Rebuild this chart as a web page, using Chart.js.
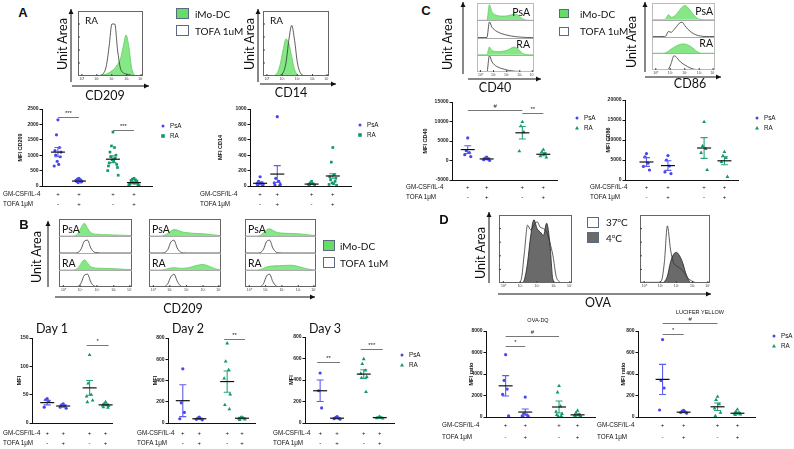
<!DOCTYPE html>
<html>
<head>
<meta charset="utf-8">
<script src="https://cdn.jsdelivr.net/npm/chart.js@4.4.0/dist/chart.umd.min.js"></script>
<style>
body { margin: 0; width: 794px; height: 449px; background: #fff; position: relative; overflow: hidden; }
canvas { position: absolute; }
.t { position: absolute; white-space: nowrap; line-height: 1; color: #111; }
</style>
</head>
<body>
<svg id="deco" width="794" height="449" style="position:absolute;left:0;top:0"></svg>
<script>
"use strict";

// ---- dot plot rows ----
const gmRow = ['+', '+', '+', '+'];
const tofaRow = ['-', '+', '-', '+'];
const rowNames = ['GM-CSF/IL-4', 'TOFA 1\u03bcM'];

// ---- A: CD209 / CD14 MFI ----
const cd209Ticks = [0, 500, 1000, 1500, 2000, 2500];
const cd209PsA = [[2150, 1660, 1250, 1150, 1100, 1000, 950, 800, 700, 650], [250, 220, 200, 180, 160, 150, 130, 110]];
const cd209RA = [[1750, 1300, 1250, 1100, 1000, 950, 900, 850, 800, 750, 700, 650, 600, 500, 350],
                 [250, 220, 200, 180, 160, 140, 120, 100, 90, 80, 60, 50, 30, 10, 0]];
const cd209Mean = [1100, 160, 870, 110];
const cd209Sem = [150, 20, 110, 15];

const cd14Ticks = [0, 200, 400, 600, 800, 1000];
const cd14PsA = [[120, 60, 40, 30, 20, 10, 0], [900, 100, 60, 40, 20, 10, 0]];
const cd14RA = [[60, 40, 30, 20, 10, 0], [500, 310, 150, 120, 100, 80, 60, 40, 30, 20, 10]];
const cd14Mean = [35, 155, 25, 130];
const cd14Sem = [15, 110, 5, 30];

// ---- B: CD209 by day ----
const day1Ticks = [0, 50, 100, 150];
const day1PsA = [[43, 41, 38, 28], [34, 32, 30, 28, 26]];
const day1RA = [[120, 70, 50, 47, 40, 37], [37, 34, 32, 31, 30, 28, 27]];
const day1Mean = [36, 30, 62, 32];
const day1Sem = [4, 2, 13, 1.5];

const day2Ticks = [0, 200, 400, 600, 800];
const day2PsA = [[510, 190, 100, 40], [55, 45, 40, 35, 30]];
const day2RA = [[750, 580, 500, 420, 270, 170, 130], [55, 50, 45, 40, 35, 30]];
const day2Mean = [210, 40, 390, 45];
const day2Sem = [150, 5, 100, 4];

const day3Ticks = [0, 200, 400, 600, 800];
const day3PsA = [[465, 300, 140], [60, 50, 45, 40, 35]];
const day3RA = [[595, 550, 490, 460, 430, 420, 290], [58, 52, 48, 45, 42]];
const day3Mean = [300, 45, 455, 50];
const day3Sem = [100, 5, 40, 4];

// ---- C: CD40 / CD86 MFI ----
const cd40Ticks = [-5000, 0, 5000, 10000, 15000];
const cd40PsA = [[5800, 2500, 2000, 1500, 1000], [900, 600, 400, 200, 0]];
const cd40RA = [[9900, 8800, 7300, 2400], [2800, 2200, 1800, 1100, 800]];
const cd40Mean = [2800, 400, 7100, 1600];
const cd40Sem = [1000, 200, 1600, 400];

const cd86Ticks = [0, 5000, 10000, 15000, 20000];
const cd86PsA = [[6600, 5800, 4200, 3400, 2500], [6100, 5000, 3500, 2000, 1600]];
const cd86RA = [[14500, 8500, 7800, 6800, 2500], [7000, 6000, 5500, 4500, 800]];
const cd86Mean = [4500, 3600, 8000, 4800];
const cd86Sem = [1100, 1200, 2600, 1000];

// ---- D: uptake ----
const ovaTicks = [0, 2000, 4000, 6000, 8000];
const ovaPsA = [[5800, 3400, 2600, 2100, 100], [1850, 300, 200, 100, 50, 0]];
const ovaRA = [[2900, 2300, 1000, 500, 300, 200, 100, 50], [600, 400, 250, 150, 100, 50, 0]];
const ovaMean = [2900, 460, 930, 200];
const ovaSem = [950, 280, 560, 80];

const lyTicks = [0, 200, 400, 600, 800];
const lyPsA = [[720, 340, 270, 65], [62, 55, 48, 42, 36]];
const lyRA = [[190, 160, 120, 80, 40, 10], [70, 50, 40, 32, 25, 20]];
const lyMean = [350, 45, 95, 35];
const lySem = [140, 5, 35, 8];

// ---- histograms (fraction of box / row height) ----
const histTickLabels = ['10\u2070', '10\u00b9', '10\u00b2', '10\u00b3', '10\u2074'];
const cd209Mo   = [0,0,0,0,0,0,0,0,.01,.02,.03,.05,.08,.12,.18,.26,.45,.63,.45,.12,.02,0,0,0];
const cd209Tofa = [0,0,0,0,0,0,0,0,.01,.04,.15,.45,.8,.8,.4,.12,.05,.03,.02,.01,0,0,0,0];
const cd14Mo    = [0,0,0,0,.01,.05,.18,.4,.57,.5,.3,.1,.02,0,0,0,0,0,0,0,0,0,0,0];
const cd14Tofa  = [0,0,0,0,0,0,.01,.05,.2,.55,.78,.55,.2,.05,.01,0,0,0,0,0,0,0,0,0];

const d1PsAMo   = [0,0,0,0,0,.02,.15,.5,.75,.45,.2,.12,.1,.09,.08,.08,.07,.06,.06,.05,.05,.04,.03,.02];
const d1PsATofa = [0,0,0,0,0,0,.03,.25,.7,.75,.3,.06,.02,0,0,0,0,0,0,0,0,0,0,0];
const d1RAMo    = [0,0,0,0,0,.02,.12,.4,.6,.4,.2,.13,.11,.1,.1,.09,.09,.08,.07,.06,.05,.04,.03,.02];
const d1RATofa  = [0,0,0,0,0,0,.03,.25,.7,.75,.3,.06,.02,0,0,0,0,0,0,0,0,0,0,0];
const d2PsAMo   = [0,0,0,0,0,.05,.15,.3,.38,.35,.28,.22,.2,.18,.16,.15,.14,.13,.12,.1,.08,.06,.04,.02];
const d2PsATofa = [0,0,0,0,0,.03,.2,.65,.75,.3,.06,.01,0,0,0,0,0,0,0,0,0,0,0,0];
const d2RAMo    = [0,0,0,0,0,.03,.08,.12,.13,.12,.1,.1,.12,.15,.2,.26,.3,.32,.3,.24,.16,.08,.03,0];
const d2RATofa  = [0,0,0,0,0,.03,.2,.6,.75,.35,.08,.01,0,0,0,0,0,0,0,0,0,0,0,0];
const d3PsAMo   = [0,0,0,0,0,.04,.18,.36,.42,.33,.24,.19,.17,.16,.15,.15,.14,.13,.12,.1,.08,.06,.04,.02];
const d3PsATofa = [0,0,0,0,0,.03,.22,.68,.75,.3,.06,.01,0,0,0,0,0,0,0,0,0,0,0,0];
const d3RAMo    = [0,0,0,0,0,.03,.1,.18,.22,.24,.25,.25,.26,.27,.28,.28,.26,.22,.17,.12,.07,.04,.02,0];
const d3RATofa  = [0,0,0,0,0,.03,.2,.65,.75,.32,.07,.01,0,0,0,0,0,0,0,0,0,0,0,0];

const cd40PsAMo   = [0,0,0,0,0,.9,.5,.35,.28,.25,.24,.24,.25,.28,.32,.35,.33,.25,.12,.04,.01,0,0,0];
const cd40PsATofa = [0,0,0,0,0,.9,.6,.45,.35,.28,.22,.18,.14,.11,.08,.06,.04,.03,.02,.01,0,0,0,0];
const cd40RAMo    = [0,0,0,0,0,.45,.25,.2,.18,.18,.2,.22,.25,.32,.4,.45,.4,.28,.12,.04,.01,0,0,0];
const cd40RATofa  = [0,0,0,0,0,.95,.6,.42,.32,.25,.2,.16,.12,.09,.07,.05,.04,.03,.02,.01,0,0,0,0];
const cd86PsAMo   = [0,0,0,0,0,.05,.3,.15,.2,.35,.55,.75,.85,.75,.55,.35,.15,.05,.01,0,0,0,0,0];
const cd86PsATofa = [0,0,0,0,0,.02,.3,.25,.4,.6,.8,.85,.65,.45,.3,.18,.1,.05,.02,0,0,0,0,0];
const cd86RAMo    = [0,0,0,0,0,.03,.12,.25,.35,.45,.52,.55,.55,.5,.42,.3,.15,.05,0,0,0,0,0,0];
const cd86RATofa  = [0,0,0,0,0,0,.05,.4,.85,.75,.55,.4,.3,.2,.12,.06,.03,.01,0,0,0,0,0,0];

const ovaCold1 = [0,0,0,0,0,0,0,0,.05,.3,.7,.93,.8,.75,.7,.88,.6,.05,0,0,0,0,0,0];
const ovaWarm1 = [0,0,0,0,0,0,0,.05,.45,.85,.78,.85,.9,.82,.8,.75,.6,.4,.1,.02,0,0,0,0];
const ovaCold2 = [0,0,0,0,0,0,0,0,.02,.1,.3,.42,.45,.4,.3,.15,.04,0,0,0,0,0,0,0];
const ovaWarm2 = [.01,.01,.01,.01,.01,.01,.01,.03,.3,.84,.5,.3,.25,.22,.18,.12,.06,.03,.01,0,0,0,0,0];

const BLUE = '#4646ee', BLUE_BAR = '#5c5cf2';
const GREEN = '#12976c', GREEN_BAR = '#25a57b';
const MO_FILL = 'rgba(120,228,120,0.9)', MO_LINE = '#62cc62';
const CALI = "Lato, 'Open Sans', sans-serif";
const ARIAL = "'Liberation Sans', Arial, sans-serif";

Chart.defaults.font.family = ARIAL;
Chart.defaults.color = '#111';

const svg = document.getElementById('deco');
const NS = 'http://www.w3.org/2000/svg';

function svgEl(tag, attrs) {
  const e = document.createElementNS(NS, tag);
  for (const k in attrs) e.setAttribute(k, attrs[k]);
  svg.appendChild(e);
  return e;
}

function arrow(x1, y1, x2, y2) {
  svgEl('line', { x1, y1, x2, y2, stroke: '#111', 'stroke-width': 1 });
  const L = Math.hypot(x2 - x1, y2 - y1), ux = (x2 - x1) / L, uy = (y2 - y1) / L;
  const bx = x2 - ux * 5, by = y2 - uy * 5;
  svgEl('polygon', { points: `${x2},${y2} ${bx - uy * 2.5},${by + ux * 2.5} ${bx + uy * 2.5},${by - ux * 2.5}`, fill: '#111' });
}

function txt(s, x, y, size, o = {}) {
  const d = document.createElement('div');
  d.className = 't';
  d.innerHTML = s;
  d.style.left = x + 'px';
  d.style.top = y + 'px';
  d.style.fontSize = size + 'px';
  d.style.fontFamily = o.font || CALI;
  d.style.fontWeight = o.bold ? 'bold' : 'normal';
  const ax = o.align === 'left' ? '0' : o.align === 'right' ? '-100%' : '-50%';
  d.style.transform = `translate(${ax},-50%)` + (o.rot ? ' rotate(-90deg)' : '');
  document.body.appendChild(d);
}

function makeCanvas(l, t, w, h) {
  const c = document.createElement('canvas');
  c.style.left = l + 'px';
  c.style.top = t + 'px';
  c.width = w;
  c.height = h;
  c.style.width = w + 'px';
  c.style.height = h + 'px';
  document.body.appendChild(c);
  return c;
}

// ---------- histogram boxes ----------
const histTickPos = [0.06, 0.29, 0.52, 0.75, 0.97];

function histPlot(box, rows, o = {}) {
  const w = box.r - box.l, h = box.b - box.t;
  const cv = makeCanvas(box.l, box.t, w, h + 7);
  const n = o.stacked ? rows.length : 1;
  const datasets = rows.map((r, i) => {
    const base = o.stacked ? n - 1 - i : 0;
    const look = {
      mo:   { bg: MO_FILL, line: MO_LINE, fill: { value: base } },
      tofa: { bg: 'transparent', line: '#333', fill: false },
      cold: { bg: '#6a6a6a', line: '#222', fill: { value: base } },
      warm: { bg: 'transparent', line: '#333', fill: false }
    }[r.kind];
    return {
      data: r.data.map(v => v + base),
      backgroundColor: look.bg,
      borderColor: look.line,
      borderWidth: 0.8,
      fill: look.fill,
      pointRadius: 0,
      cubicInterpolationMode: 'monotone'
    };
  });
  new Chart(cv, {
    type: 'line',
    data: { labels: rows[0].data.map((_, i) => i), datasets },
    options: {
      responsive: false, animation: false, events: [],
      layout: { padding: { bottom: 7 } },
      plugins: { legend: { display: false }, tooltip: { enabled: false } },
      scales: { x: { display: false }, y: { display: false, min: 0, max: n } }
    },
    plugins: [{
      id: 'frame',
      afterDatasetsDraw(chart) {
        const { ctx, chartArea: ca, scales } = chart;
        ctx.save();
        ctx.strokeStyle = o.frame || '#666';
        ctx.lineWidth = 1;
        ctx.strokeRect(ca.left + 0.5, ca.top + 0.5, ca.right - ca.left - 1, ca.bottom - ca.top - 1);
        if (o.stacked) {
          ctx.strokeStyle = '#aaa';
          for (let k = 1; k < n; k++) {
            const y = Math.round(scales.y.getPixelForValue(k)) + 0.5;
            ctx.beginPath(); ctx.moveTo(ca.left, y); ctx.lineTo(ca.right, y); ctx.stroke();
          }
        }
        ctx.strokeStyle = '#444';
        ctx.fillStyle = '#444';
        ctx.font = '3.5px ' + ARIAL;
        ctx.textAlign = 'center';
        ctx.textBaseline = 'top';
        histTickPos.forEach((p, i) => {
          const x = ca.left + p * (ca.right - ca.left);
          ctx.beginPath(); ctx.moveTo(x, ca.bottom); ctx.lineTo(x, ca.bottom - 2); ctx.stroke();
          ctx.fillText(histTickLabels[i], x, ca.bottom + 1.5);
        });
        if (o.leftTicks) {
          for (let k = 1; k < 5; k++) {
            const y = ca.bottom - k * (ca.bottom - ca.top) / 5;
            ctx.beginPath(); ctx.moveTo(ca.left, y); ctx.lineTo(ca.left + 2, y); ctx.stroke();
          }
        }
        ctx.restore();
      }
    }]
  });
}

// ---------- dot plots ----------
const spread = [0, -1, 1, -2, 2, -1.5, 1.5, -0.5, 0.5, -2.5, 2.5, -3, 3, -3.5, 3.5];

function dotPlot(s) {
  const ml = s.ml, mt = 18, mr = 8, mb = 30;
  const pw = s.r - s.l, ph = s.b - s.t;
  const cv = makeCanvas(s.l - ml, s.t - mt, pw + ml + mr, ph + mt + mb);
  const jit = 1.5 / pw;
  const pts = (groups, gOff) => {
    const out = [];
    groups.forEach((vals, k) => vals.forEach((v, j) => out.push({ x: s.gx[k + gOff] + spread[j % spread.length] * jit, y: v })));
    return out;
  };
  const colors = [BLUE_BAR, BLUE_BAR, GREEN_BAR, GREEN_BAR];
  const row1 = s.b + s.rowPad, row2 = row1 + s.rowGap;
  new Chart(cv, {
    type: 'scatter',
    data: {
      datasets: [
        { label: 'PsA', data: pts(s.psa, 0), pointStyle: 'circle', pointRadius: 1.6, backgroundColor: BLUE, borderWidth: 0 },
        { label: 'RA', data: pts(s.ra, 2), pointStyle: s.raShape, pointRadius: s.raShape === 'rect' ? 1.9 : 2.2, backgroundColor: GREEN, borderWidth: 0 }
      ]
    },
    options: {
      responsive: false, animation: false, events: [],
      layout: { padding: { top: mt, right: mr } },
      plugins: { legend: { display: false }, tooltip: { enabled: false } },
      scales: {
        x: {
          type: 'linear', min: 0, max: 1,
          afterFit: sc => { sc.height = mb; },
          grid: { display: false },
          border: { display: true, color: '#111', width: 1 },
          ticks: { display: false }
        },
        y: {
          min: s.ticks[0], max: s.ticks[s.ticks.length - 1],
          afterBuildTicks: sc => { sc.ticks = s.ticks.map(v => ({ value: v })); },
          afterFit: sc => { sc.width = ml; },
          grid: { display: true, drawOnChartArea: false, drawTicks: true, tickLength: 2.5, color: '#111' },
          border: { display: true, color: '#111', width: 1 },
          ticks: { font: { size: 5, weight: 'bold' }, color: '#222', padding: 1, callback: v => String(v) },
          title: { display: true, text: s.title, font: { size: 5.5, weight: 'bold' }, padding: { top: 0, bottom: 0 }, color: '#111' }
        }
      }
    },
    plugins: [{
      id: 'meanSem',
      afterDatasetsDraw(chart) {
        const { ctx, scales: { x, y } } = chart;
        const top = parseFloat(chart.canvas.style.top);
        ctx.save();
        s.mean.forEach((m, g) => {
          const px = x.getPixelForValue(s.gx[g]);
          const yt = y.getPixelForValue(m + s.sem[g]), yb = y.getPixelForValue(m - s.sem[g]);
          ctx.strokeStyle = colors[g];
          ctx.lineWidth = 1.1;
          ctx.beginPath();
          ctx.moveTo(px, yt); ctx.lineTo(px, yb);
          ctx.moveTo(px - 3.5, yt); ctx.lineTo(px + 3.5, yt);
          ctx.moveTo(px - 3.5, yb); ctx.lineTo(px + 3.5, yb);
          ctx.stroke();
          const ym = y.getPixelForValue(m);
          ctx.strokeStyle = '#111';
          ctx.lineWidth = 1.2;
          ctx.beginPath(); ctx.moveTo(px - 7, ym); ctx.lineTo(px + 7, ym); ctx.stroke();
        });
        // +/- treatment rows under each group
        ctx.fillStyle = '#111';
        ctx.font = '6px ' + ARIAL;
        ctx.textAlign = 'center';
        ctx.textBaseline = 'middle';
        s.gx.forEach((v, i) => {
          const px = x.getPixelForValue(v);
          ctx.fillText(gmRow[i], px, row1 - top);
          ctx.fillText(tofaRow[i], px, row2 - top);
        });
        // significance bars
        ctx.strokeStyle = '#777';
        ctx.fillStyle = '#222';
        ctx.lineWidth = 1;
        ctx.textBaseline = 'bottom';
        (s.sigs || []).forEach(sg => {
          const x1 = x.getPixelForValue(s.gx[sg.g1]) - (sg.ext || 0), x2 = x.getPixelForValue(s.gx[sg.g2]) + (sg.ext || 0);
          const yy = Math.round(y.getPixelForValue(sg.y)) + 0.5;
          ctx.beginPath(); ctx.moveTo(x1, yy); ctx.lineTo(x2, yy); ctx.stroke();
          ctx.fillText(sg.s, (x1 + x2) / 2, yy - 1);
        });
        ctx.restore();
      }
    }]
  });
  // row labels
  txt(rowNames[0], s.rowX, row1, 6.3, { font: ARIAL, align: 'left' });
  txt(rowNames[1], s.rowX, row2, 6.3, { font: ARIAL, align: 'left' });
  // legend
  if (s.legend) {
    const [lx, ly] = s.legend;
    svgEl('circle', { cx: lx, cy: ly, r: 1.5, fill: BLUE });
    if (s.raShape === 'rect') svgEl('rect', { x: lx - 1.8, y: ly + 10 - 1.8, width: 3.6, height: 3.6, fill: GREEN });
    else svgEl('polygon', { points: `${lx},${ly + 8} ${lx - 2},${ly + 11.5} ${lx + 2},${ly + 11.5}`, fill: GREEN });
    txt('PsA', lx + 7, ly, 6.3, { font: ARIAL, align: 'left' });
    txt('RA', lx + 7, ly + 10, 6.3, { font: ARIAL, align: 'left' });
  }
}

function legendBox(x, y, w, h, fill) {
  svgEl('rect', { x: x + 0.5, y: y + 0.5, width: w, height: h, fill, stroke: '#5a6a80', 'stroke-width': 1 });
}

// ================= Panel A =================
txt('A', 23, 12, 13, { font: ARIAL, bold: true });
histPlot({ l: 78, t: 11, r: 143, b: 76 }, [
  { kind: 'tofa', data: cd209Tofa }, { kind: 'mo', data: cd209Mo }
], { leftTicks: true });
txt('RA', 85, 20, 10, { align: 'left' });
txt('Unit Area', 63, 44, 12.5, { rot: true });
arrow(71, 82, 71, 9);
arrow(72, 86, 149, 86);
txt('CD209', 105, 96, 12.5);

histPlot({ l: 263, t: 11, r: 329, b: 76 }, [
  { kind: 'tofa', data: cd14Tofa }, { kind: 'mo', data: cd14Mo }
], { leftTicks: true });
txt('RA', 270, 20, 10, { align: 'left' });
txt('Unit Area', 250, 44, 12.5, { rot: true });
arrow(258, 82, 258, 9);
arrow(260, 84, 336, 84);
txt('CD14', 291, 93, 12.5);

legendBox(176, 8, 12, 10, '#66dd66');
legendBox(176, 25, 12, 10, '#fff');
txt('iMo-DC', 195, 13.5, 10, { align: 'left' });
txt('TOFA 1uM', 195, 30.5, 10, { align: 'left' });

dotPlot({ l: 42, r: 152, t: 109, b: 186, ml: 25, ticks: cd209Ticks, title: 'MFI CD209',
  gx: [0.145, 0.336, 0.645, 0.836], psa: cd209PsA, ra: cd209RA, mean: cd209Mean, sem: cd209Sem,
  raShape: 'rect', rowPad: 8, rowGap: 10, rowX: 3, legend: [163, 126],
  sigs: [{ g1: 0, g2: 1, y: 2240, s: '***' }, { g1: 2, g2: 3, y: 1820, s: '***' }] });
dotPlot({ l: 250, r: 351, t: 109, b: 186, ml: 33, ticks: cd14Ticks, title: 'MFI CD14',
  gx: [0.1, 0.27, 0.61, 0.82], psa: cd14PsA, ra: cd14RA, mean: cd14Mean, sem: cd14Sem,
  raShape: 'rect', rowPad: 8, rowGap: 10, rowX: 200, legend: [360, 125] });

// ================= Panel B =================
txt('B', 24, 224, 13, { font: ARIAL, bold: true });
const bBoxes = [
  { box: { l: 59, t: 219, r: 132, b: 287 }, rows: [d1PsAMo, d1PsATofa, d1RAMo, d1RATofa] },
  { box: { l: 149, t: 219, r: 221, b: 287 }, rows: [d2PsAMo, d2PsATofa, d2RAMo, d2RATofa] },
  { box: { l: 245, t: 219, r: 316, b: 287 }, rows: [d3PsAMo, d3PsATofa, d3RAMo, d3RATofa] }
];
bBoxes.forEach(bb => {
  histPlot(bb.box, [
    { kind: 'mo', data: bb.rows[0] }, { kind: 'tofa', data: bb.rows[1] },
    { kind: 'mo', data: bb.rows[2] }, { kind: 'tofa', data: bb.rows[3] }
  ], { stacked: true });
  txt('PsA', bb.box.l + 3, 229, 10.5, { align: 'left' });
  txt('RA', bb.box.l + 3, 263, 10.5, { align: 'left' });
});
txt('Unit Area', 37, 257, 12.5, { rot: true });
arrow(48, 287, 48, 221);
arrow(55, 297, 315, 297);
txt('CD209', 183, 309, 12.5);
legendBox(323, 240, 11, 10, '#66dd66');
legendBox(323, 257, 11, 10, '#fff');
txt('iMo-DC', 340, 245.5, 10, { align: 'left' });
txt('TOFA 1uM', 340, 262.5, 10, { align: 'left' });

txt('Day 1', 52, 329, 12.5);
txt('Day 2', 188, 329, 12.5);
txt('Day 3', 325, 329, 12.5);
dotPlot({ l: 32, r: 112, t: 338, b: 423, ml: 16, ticks: day1Ticks, title: 'MFI',
  gx: [0.19, 0.39, 0.72, 0.92], psa: day1PsA, ra: day1RA, mean: day1Mean, sem: day1Sem,
  raShape: 'triangle', rowPad: 10, rowGap: 10, rowX: 3,
  sigs: [{ g1: 2, g2: 3, y: 137, s: '*', ext: 3 }] });
dotPlot({ l: 168, r: 255, t: 338, b: 423, ml: 16, ticks: day2Ticks, title: 'MFI',
  gx: [0.17, 0.36, 0.68, 0.85], psa: day2PsA, ra: day2RA, mean: day2Mean, sem: day2Sem,
  raShape: 'triangle', rowPad: 10, rowGap: 10, rowX: 137,
  sigs: [{ g1: 2, g2: 3, y: 790, s: '**', ext: 3 }] });
dotPlot({ l: 305, r: 394, t: 337, b: 423, ml: 17, ticks: day3Ticks, title: 'MFI',
  gx: [0.17, 0.36, 0.66, 0.84], psa: day3PsA, ra: day3RA, mean: day3Mean, sem: day3Sem,
  raShape: 'triangle', rowPad: 10, rowGap: 10, rowX: 273, legend: [402, 355],
  sigs: [{ g1: 0, g2: 1, y: 567, s: '**', ext: 3 }, { g1: 2, g2: 3, y: 690, s: '***', ext: 3 }] });

// ================= Panel C =================
txt('C', 426, 10, 13, { font: ARIAL, bold: true });
histPlot({ l: 477, t: 3, r: 534, b: 72 }, [
  { kind: 'mo', data: cd40PsAMo }, { kind: 'tofa', data: cd40PsATofa },
  { kind: 'mo', data: cd40RAMo }, { kind: 'tofa', data: cd40RATofa }
], { stacked: true, frame: '#bbb' });
txt('PsA', 530, 12, 10.5, { align: 'right' });
txt('RA', 530, 44, 10.5, { align: 'right' });
txt('Unit Area', 448, 44, 12.5, { rot: true });
arrow(463, 74, 463, 2);
arrow(468, 79, 541, 79);
txt('CD40', 495, 88, 12.5);

histPlot({ l: 652, t: 3, r: 715, b: 70 }, [
  { kind: 'mo', data: cd86PsAMo }, { kind: 'tofa', data: cd86PsATofa },
  { kind: 'mo', data: cd86RAMo }, { kind: 'tofa', data: cd86RATofa }
], { stacked: true, frame: '#bbb' });
txt('PsA', 713, 11, 10.5, { align: 'right' });
txt('RA', 713, 43, 10.5, { align: 'right' });
txt('Unit Area', 632, 42, 12.5, { rot: true });
arrow(645, 72, 645, 2);
arrow(645, 77, 721, 77);
txt('CD86', 690, 84, 12.5);

legendBox(559, 9, 9, 8, '#66dd66');
legendBox(559, 27, 9, 8, '#fff');
txt('iMo-DC', 580, 13.5, 10, { align: 'left' });
txt('TOFA 1uM', 580, 31, 10, { align: 'left' });

dotPlot({ l: 452, r: 557, t: 102, b: 180, ml: 30, ticks: cd40Ticks, title: 'MFI CD40',
  gx: [0.15, 0.33, 0.67, 0.87], psa: cd40PsA, ra: cd40RA, mean: cd40Mean, sem: cd40Sem,
  raShape: 'triangle', rowPad: 7, rowGap: 10, rowX: 406, legend: [577, 118],
  sigs: [{ g1: 0, g2: 2, y: 12950, s: '#' }, { g1: 2, g2: 3, y: 12200, s: '**' }] });
dotPlot({ l: 625, r: 738, t: 100, b: 180, ml: 20, ticks: cd86Ticks, title: 'MFI CD86',
  gx: [0.19, 0.38, 0.70, 0.88], psa: cd86PsA, ra: cd86RA, mean: cd86Mean, sem: cd86Sem,
  raShape: 'triangle', rowPad: 7, rowGap: 10, rowX: 590, legend: [757, 118] });

// ================= Panel D =================
txt('D', 444, 219, 13, { font: ARIAL, bold: true });
histPlot({ l: 499, t: 215, r: 572, b: 283 }, [
  { kind: 'warm', data: ovaWarm1 }, { kind: 'cold', data: ovaCold1 }
], { leftTicks: true });
histPlot({ l: 640, t: 215, r: 710, b: 283 }, [
  { kind: 'warm', data: ovaWarm2 }, { kind: 'cold', data: ovaCold2 }
], { leftTicks: true });
txt('Unit Area', 481, 253, 12.5, { rot: true });
arrow(489, 283, 489, 212);
arrow(498, 294, 711, 294);
txt('OVA', 598, 303, 12.5);
legendBox(587, 217, 11, 10, '#fff');
legendBox(587, 232, 11, 10, '#6a6a6a');
txt('37<sup style="font-size:6px">o</sup>C', 606, 222, 10, { align: 'left' });
txt('4<sup style="font-size:6px">o</sup>C', 606, 237.5, 10, { align: 'left' });

txt('OVA-DQ', 538, 321, 5.5, { font: ARIAL });
txt('LUCIFER YELLOW', 700, 313, 5.5, { font: ARIAL });
dotPlot({ l: 486, r: 595, t: 331, b: 417, ml: 18, ticks: ovaTicks, title: 'MFI ratio',
  gx: [0.18, 0.36, 0.67, 0.84], psa: ovaPsA, ra: ovaRA, mean: ovaMean, sem: ovaSem,
  raShape: 'triangle', rowPad: 8, rowGap: 12, rowX: 442,
  sigs: [{ g1: 0, g2: 2, y: 7530, s: '#' }, { g1: 0, g2: 1, y: 6600, s: '*' }] });
dotPlot({ l: 638, r: 755, t: 331, b: 417, ml: 18, ticks: lyTicks, title: 'MFI ratio',
  gx: [0.21, 0.39, 0.68, 0.85], psa: lyPsA, ra: lyRA, mean: lyMean, sem: lySem,
  raShape: 'triangle', rowPad: 8, rowGap: 12, rowX: 597, legend: [774, 336],
  sigs: [{ g1: 0, g2: 2, y: 874, s: '#' }, { g1: 0, g2: 1, y: 772, s: '*' }] });
</script>
</body>
</html>
